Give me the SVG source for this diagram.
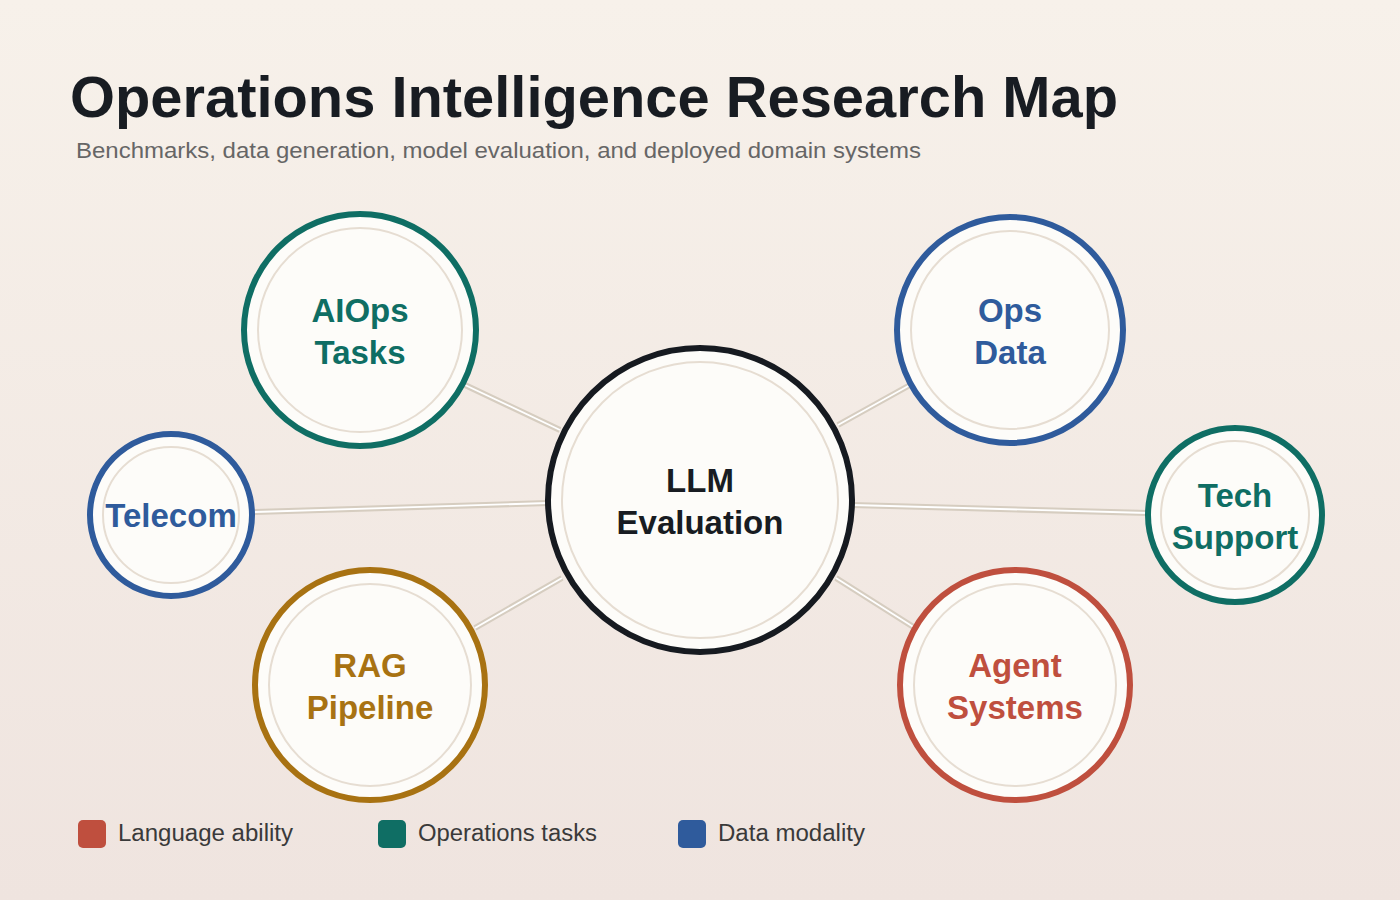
<svg xmlns="http://www.w3.org/2000/svg" width="1400" height="900" viewBox="0 0 1400 900">
<defs>
<linearGradient id="bg" x1="0" y1="0" x2="0" y2="1"><stop offset="0" stop-color="#f7f1ea"/><stop offset="1" stop-color="#efe4df"/></linearGradient>
<style>
.t{font-family:"Liberation Sans",Arial,sans-serif}
.lb{font-family:"Liberation Sans",Arial,sans-serif;font-weight:bold;font-size:33px;text-anchor:middle}
.fill{fill:#fdfcf9}
.in{fill:none;stroke:#e6ddd2;stroke-width:2}
.ca{stroke:#d6cdc0;stroke-width:6;fill:none}
.cb{stroke:#ffffff;stroke-width:1.8;fill:none}
.lg{font-family:"Liberation Sans",Arial,sans-serif;font-size:23px;fill:#3a3a3a}
</style>
</defs>
<rect width="1400" height="900" fill="url(#bg)"/>
<text class="t" x="70" y="117" font-size="57" font-weight="bold" fill="#181c22" textLength="1048" lengthAdjust="spacingAndGlyphs">Operations Intelligence Research Map</text>
<text class="t" x="76" y="158" font-size="22" fill="#666" textLength="845" lengthAdjust="spacingAndGlyphs">Benchmarks, data generation, model evaluation, and deployed domain systems</text>
<g id="connectors">
<path class="ca" d="M465 385L560 430M838 425L910 385M255 512L548 503M852 505L1148 513M475 628L562 578M836 578L915 628"/>
<path class="cb" d="M465 385L560 430M838 425L910 385M255 512L548 503M852 505L1148 513M475 628L562 578M836 578L915 628"/>
</g>
<g id="center"><circle class="fill" cx="700" cy="500" r="152" stroke="#161a20" stroke-width="6"/><circle class="in" cx="700" cy="500" r="138"/><text class="lb" fill="#181c22"><tspan x="700" y="492">LLM</tspan><tspan x="700" y="534">Evaluation</tspan></text></g>
<g id="aiops"><circle class="fill" cx="360" cy="330" r="116" stroke="#0f6e64" stroke-width="6"/><circle class="in" cx="360" cy="330" r="102"/><text class="lb" fill="#0f6e64"><tspan x="360" y="322">AIOps</tspan><tspan x="360" y="364">Tasks</tspan></text></g>
<g id="opsdata"><circle class="fill" cx="1010" cy="330" r="113" stroke="#2f5b9c" stroke-width="6"/><circle class="in" cx="1010" cy="330" r="99"/><text class="lb" fill="#2f5b9c"><tspan x="1010" y="322">Ops</tspan><tspan x="1010" y="364">Data</tspan></text></g>
<g id="telecom"><circle class="fill" cx="171" cy="515" r="81" stroke="#2f5b9c" stroke-width="6"/><circle class="in" cx="171" cy="515" r="68"/><text class="lb" fill="#2f5b9c" x="171" y="527">Telecom</text></g>
<g id="techsupport"><circle class="fill" cx="1235" cy="515" r="87" stroke="#0f6e64" stroke-width="6"/><circle class="in" cx="1235" cy="515" r="74"/><text class="lb" fill="#0f6e64"><tspan x="1235" y="507">Tech</tspan><tspan x="1235" y="549">Support</tspan></text></g>
<g id="rag"><circle class="fill" cx="370" cy="685" r="115" stroke="#a87212" stroke-width="6"/><circle class="in" cx="370" cy="685" r="101"/><text class="lb" fill="#a87212"><tspan x="370" y="677">RAG</tspan><tspan x="370" y="719">Pipeline</tspan></text></g>
<g id="agent"><circle class="fill" cx="1015" cy="685" r="115" stroke="#bf4f3e" stroke-width="6"/><circle class="in" cx="1015" cy="685" r="101"/><text class="lb" fill="#bf4f3e"><tspan x="1015" y="677">Agent</tspan><tspan x="1015" y="719">Systems</tspan></text></g>
<g id="legend">
<rect x="78" y="820" width="28" height="28" rx="5" fill="#bf4f3e"/><text class="lg" x="118" y="841" textLength="175" lengthAdjust="spacingAndGlyphs">Language ability</text>
<rect x="378" y="820" width="28" height="28" rx="5" fill="#0f6e64"/><text class="lg" x="418" y="841" textLength="179" lengthAdjust="spacingAndGlyphs">Operations tasks</text>
<rect x="678" y="820" width="28" height="28" rx="5" fill="#2f5b9c"/><text class="lg" x="718" y="841" textLength="147" lengthAdjust="spacingAndGlyphs">Data modality</text>
</g>
</svg>
